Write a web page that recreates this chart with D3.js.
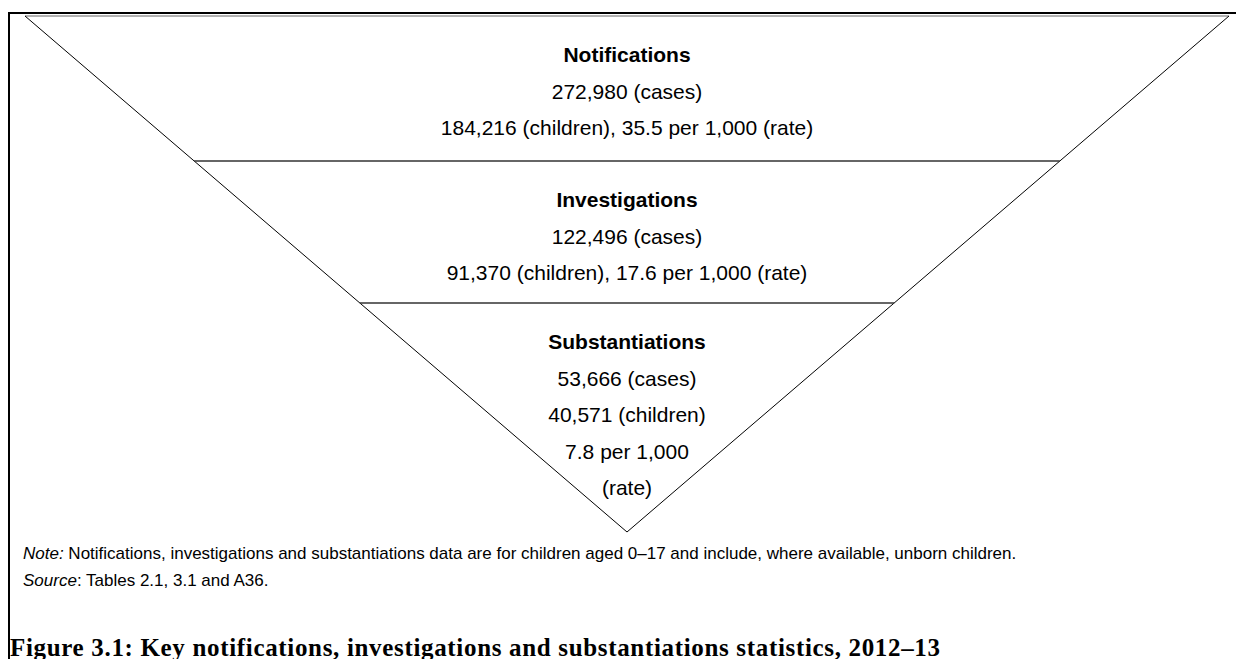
<!DOCTYPE html>
<html>
<head>
<meta charset="utf-8">
<script src="https://cdn.jsdelivr.net/npm/d3@7"></script>
<style>
  html, body { margin: 0; padding: 0; background: #fff; }
  svg { display: block; }
</style>
</head>
<body>
<svg id="chart" width="1236" height="659"></svg>
<script>
// ---- data ----
const stages = ["Notifications", "Investigations", "Substantiations"];
const cases = [272980, 122496, 53666];
const children = [184216, 91370, 40571];
const rates = [35.5, 17.6, 7.8];
const noteText = "Notifications, investigations and substantiations data are for children aged 0\u201317 and include, where available, unborn children.";
const sourceText = "Tables 2.1, 3.1 and A36.";
const figureTitle = "Figure 3.1: Key notifications, investigations and substantiations statistics, 2012\u201313";

// ---- layout ----
const W = 1236, H = 659;
const svg = d3.select("#chart");
const fmt = d3.format(",");
const rfmt = d3.format(".1f");

// funnel geometry: y position of each stage boundary (0 = top, 3 = apex)
const yBound = d3.scaleLinear().domain([0, 1, 2, 3]).range([16, 161, 303, 532]);
const cx = 627;
const halfTop = 602;
const halfW = d3.scaleLinear().domain([yBound(0), yBound(3)]).range([halfTop, 0]);

// outer frame (top and left)
svg.append("line").attr("x1", 8).attr("x2", W).attr("y1", 13).attr("y2", 13)
  .attr("stroke", "#000").attr("stroke-width", 2);
svg.append("line").attr("x1", 9).attr("x2", 9).attr("y1", 12).attr("y2", H)
  .attr("stroke", "#000").attr("stroke-width", 2);

// triangle
const y0 = yBound(0), yA = yBound(3);
svg.append("line").attr("x1", cx - halfW(y0)).attr("x2", cx + halfW(y0))
  .attr("y1", y0).attr("y2", y0).attr("stroke", "#666").attr("stroke-width", 1);
svg.append("line").attr("x1", cx - halfW(y0)).attr("y1", y0)
  .attr("x2", cx).attr("y2", yA).attr("stroke", "#000").attr("stroke-width", 1);
svg.append("line").attr("x1", cx + halfW(y0)).attr("y1", y0)
  .attr("x2", cx).attr("y2", yA).attr("stroke", "#000").attr("stroke-width", 1);

// dividers
svg.selectAll("line.div").data([1, 2]).join("line").attr("class", "div")
  .attr("x1", d => cx - halfW(yBound(d))).attr("x2", d => cx + halfW(yBound(d)))
  .attr("y1", d => yBound(d)).attr("y2", d => yBound(d))
  .attr("stroke", "#333").attr("stroke-width", 1.4);

// stage texts
const lineGap = 36.5;
stages.forEach((s, i) => {
  const lines = i < 2
    ? [fmt(cases[i]) + " (cases)", fmt(children[i]) + " (children), " + rfmt(rates[i]) + " per 1,000 (rate)"]
    : [fmt(cases[i]) + " (cases)", fmt(children[i]) + " (children)", rfmt(rates[i]) + " per 1,000", "(rate)"];
  const top = yBound(i) + 46;
  const g = svg.append("g").attr("font-family", "Liberation Sans, Arial, sans-serif")
    .attr("font-size", 21).attr("fill", "#000").attr("text-anchor", "middle");
  g.append("text").attr("x", cx).attr("y", top).attr("font-weight", "bold").text(s);
  lines.forEach((l, j) => {
    g.append("text").attr("x", cx).attr("y", top + (j + 1) * lineGap).text(l);
  });
});

// note & source
const note = svg.append("text").attr("x", 23).attr("y", 559)
  .attr("font-family", "Liberation Sans, Arial, sans-serif").attr("font-size", 17);
note.append("tspan").attr("font-style", "italic").text("Note:");
note.append("tspan").text(" " + noteText);
const src = svg.append("text").attr("x", 23).attr("y", 586)
  .attr("font-family", "Liberation Sans, Arial, sans-serif").attr("font-size", 17);
src.append("tspan").attr("font-style", "italic").text("Source");
src.append("tspan").text(": " + sourceText);

// figure title
svg.append("text").attr("x", 10).attr("y", 656)
  .attr("font-family", "Liberation Serif, serif").attr("font-weight", "bold")
  .attr("font-size", 25).attr("textLength", 930).attr("lengthAdjust", "spacing")
  .text(figureTitle);
</script>
</body>
</html>
